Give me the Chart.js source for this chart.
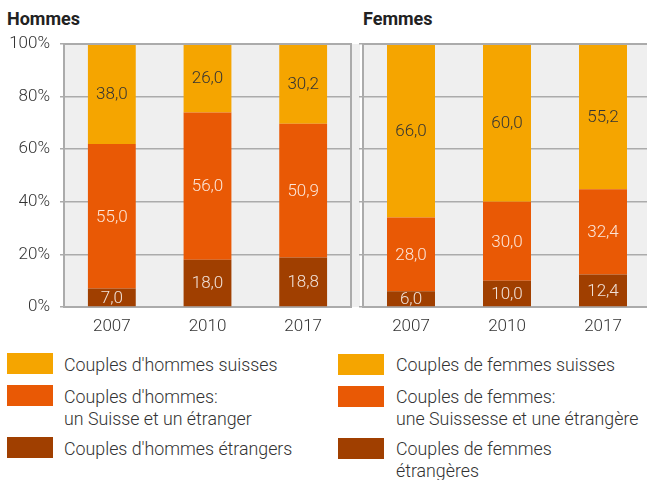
<!DOCTYPE html>
<html>
<head>
<meta charset="utf-8">
<script src="https://cdn.jsdelivr.net/npm/chart.js@4"></script>
<style>
  body { margin: 0; width: 647px; height: 480px; overflow: hidden; background: #fff; font-family: Roboto, sans-serif; color: #333; position: relative; }
  .titre { position: absolute; top: 8px; font-size: 18px; font-weight: bold; color: #222; }
  .boite { position: absolute; }
  .leg { position: absolute; font-size: 17.8px; font-weight: 300; line-height: 22px; color: #333; white-space: nowrap; }
  .carre { position: absolute; width: 46px; height: 21px; }
</style>
</head>
<body>
<div class="titre" style="left:7px">Hommes</div>
<div class="titre" style="left:363px">Femmes</div>
<div class="boite" style="left:0px;top:30px;width:360px;height:317px"><canvas id="chartH"></canvas></div>
<div class="boite" style="left:299px;top:30px;width:361px;height:317px"><canvas id="chartF"></canvas></div>
<div id="legende"></div>
<script>
/*Donnees*/
const annees = ['2007', '2010', '2017']
const hommes_etrangers = [7.0, 18.0, 18.8]
const hommes_mixtes = [55.0, 56.0, 50.9]
const hommes_suisses = [38.0, 26.0, 30.2]
const femmes_etrangeres = [6.0, 10.0, 12.4]
const femmes_mixtes = [28.0, 30.0, 32.4]
const femmes_suisses = [66.0, 60.0, 55.2]
const ticks_y = [0, 20, 40, 60, 80, 100]

const jaune = '#f5a500'
const orange = '#e95905'
const brun = '#a03f00'
const gris = '#ababab'

/*Fond gris + cadre*/
function fond(cadre_droit) {
    return {
        id: 'fond',
        beforeDraw(chart) {
            const a = chart.chartArea
            const ctx = chart.ctx
            ctx.save()
            ctx.fillStyle = '#efefef'
            ctx.fillRect(a.left, a.top, a.right - a.left + 10, a.bottom - a.top)
            ctx.restore()
        },
        afterDraw(chart) {
            const a = chart.chartArea
            const ctx = chart.ctx
            ctx.save()
            ctx.strokeStyle = gris
            ctx.lineWidth = 2
            ctx.beginPath()
            if (cadre_droit) {
                ctx.moveTo(a.right, a.top - 1)
                ctx.lineTo(a.right, a.bottom)
            }
            ctx.moveTo(a.left, a.top)
            ctx.lineTo(a.right + (cadre_droit ? 0 : 10), a.top)
            ctx.stroke()
            ctx.restore()
        }
    }
}

/*Etiquettes au centre des barres*/
const etiquettes = {
    id: 'etiquettes',
    afterDatasetsDraw(chart) {
        const ctx = chart.ctx
        ctx.save()
        ctx.font = '300 17px Roboto'
        ctx.textAlign = 'center'
        ctx.textBaseline = 'middle'
        chart.data.datasets.forEach((ds, i) => {
            const meta = chart.getDatasetMeta(i)
            meta.data.forEach((bar, j) => {
                const y = (bar.y + bar.base) / 2
                ctx.fillStyle = ds.backgroundColor == jaune ? '#333' : 'rgba(255,255,255,0.85)'
                ctx.fillText(ds.data[j].toFixed(1).replace('.', ','), bar.x, y + 1)
            })
        })
        ctx.restore()
    }
}

function plot(id, etr, mix, sui, montrer_y) {
    const ctx = document.getElementById(id).getContext('2d')
    return new Chart(ctx, {
        type: 'bar',
        data: {
            labels: annees,
            datasets: [
                {label: 'etrangers', data: etr, backgroundColor: brun},
                {label: 'mixtes', data: mix, backgroundColor: orange},
                {label: 'suisses', data: sui, backgroundColor: jaune}
            ]
        },
        options: {
            responsive: true,
            maintainAspectRatio: false,
            animation: false,
            layout: {padding: {top: 14, right: 9, left: 0, bottom: 0}},
            datasets: {bar: {barPercentage: 0.5, categoryPercentage: 1, borderWidth: 0}},
            plugins: {legend: {display: false}, tooltip: {enabled: false}},
            scales: {
                x: {
                    stacked: true,
                    grid: {display: false, drawTicks: false},
                    border: {display: true, color: gris, width: 2},
                    ticks: {color: '#333', padding: 10, font: {family: 'Roboto', size: 17, weight: '300'}},
                    afterFit(axis) { axis.height = 40; axis.paddingLeft = 0; axis.paddingRight = 0 }
                },
                y: {
                    stacked: true,
                    min: 0,
                    max: 100,
                    afterBuildTicks(axis) { axis.ticks = ticks_y.map(v => ({value: v})) },
                    grid: {color: gris, lineWidth: 1.5, tickLength: 4, drawTicks: true},
                    border: {display: true, color: gris, width: 2},
                    ticks: {
                        display: true,
                        color: montrer_y ? '#333' : 'rgba(0,0,0,0)',
                        padding: 10,
                        font: {family: 'Roboto', size: 17, weight: '300'},
                        callback: v => v + '%'
                    },
                    afterFit(axis) { axis.width = 64; axis.paddingTop = 0; axis.paddingBottom = 0 }
                }
            }
        },
        plugins: [fond(montrer_y), etiquettes]
    })
}

plot('chartH', hommes_etrangers, hommes_mixtes, hommes_suisses, true)
plot('chartF', femmes_etrangeres, femmes_mixtes, femmes_suisses, false)

/*Legende*/
const legende_h = ["Couples d'hommes suisses", "Couples d'hommes:<br>un Suisse et un étranger", "Couples d'hommes étrangers"]
const legende_f = ["Couples de femmes suisses", "Couples de femmes:<br>une Suissesse et une étrangère", "Couples de femmes<br>étrangères"]
const couleurs = [jaune, orange, brun]
const lignes_y = [353, 385, 437]

let html = ''
for (let i = 0; i < 3; i++) {
    html += `<div class="carre" style="left:7px;top:${lignes_y[i]}px;background:${couleurs[i]}"></div>`
    html += `<div class="leg" style="left:64px;top:${lignes_y[i] + 1}px">${legende_h[i]}</div>`
    html += `<div class="carre" style="left:338px;top:${lignes_y[i] + 1}px;background:${couleurs[i]}"></div>`
    html += `<div class="leg" style="left:396px;top:${lignes_y[i] + 1}px">${legende_f[i]}</div>`
}
document.getElementById('legende').innerHTML = html
</script>
</body>
</html>
